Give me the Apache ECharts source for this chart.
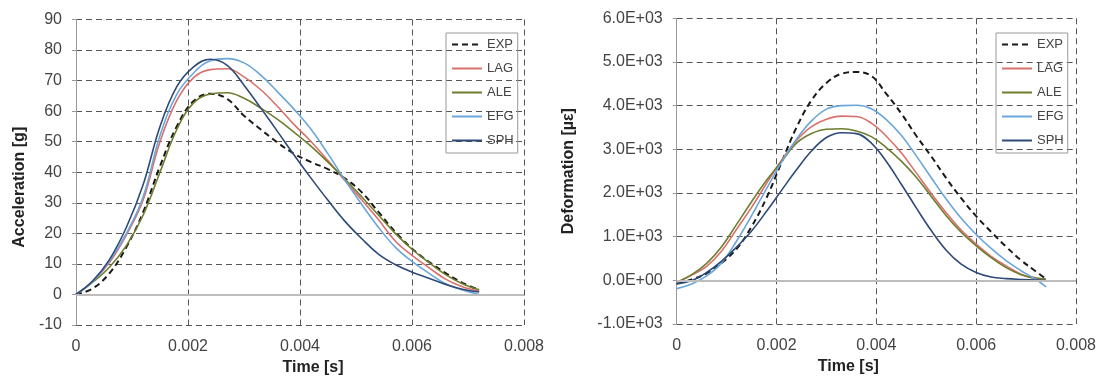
<!DOCTYPE html>
<html>
<head>
<meta charset="utf-8">
<script src="https://cdn.jsdelivr.net/npm/echarts@6/dist/echarts.min.js"></script>
<style>
  html, body { margin: 0; padding: 0; background: #fff; }
  #chart { width: 1099px; height: 389px; }
</style>
</head>
<body>
<div id="chart"></div>
<script>
// left panel: acceleration [g] vs time [s]
const accTime = [0, 0.0003, 0.0006, 0.0009, 0.0012, 0.0015, 0.0018, 0.0021, 0.0024, 0.0027, 0.003, 0.0033,
  0.0036, 0.0039, 0.0042, 0.0045, 0.0048, 0.0051, 0.0054, 0.0057, 0.006, 0.0063, 0.0066, 0.0069, 0.0072];
const accEXP = [0, 2, 7, 15.5, 27, 42, 55, 63.3, 65.7, 64, 58.5, 54, 49.7, 46, 43.3, 41, 38, 33.5, 27, 20.5, 15, 10.7, 7, 3.8, 1.5];
const accLAG = [0, 4.3, 10.5, 19.5, 31, 50, 63.5, 71, 73.6, 73.9, 71.2, 67, 61.5, 55.5, 50, 43.8, 37.3, 31, 24.5, 17.5, 12.8, 8.8, 5, 2.5, 1];
const accALE = [0, 4, 9, 16, 26, 40, 54, 62.7, 65.6, 66, 64.2, 61, 57.3, 53, 48.5, 43.3, 37.8, 32, 26, 20, 14.8, 10.5, 6.5, 3.5, 1.5];
const accEFG = [0, 4.3, 11, 20, 32, 52, 65.5, 72.5, 76.5, 77.2, 75.8, 71.8, 66.3, 60.5, 54, 46, 37.5, 29.5, 22, 15.5, 10.8, 7, 3.5, 1.5, 0];
const accSPH = [0, 4.5, 11.5, 22, 36, 55, 68, 74.5, 77, 75, 68.5, 61, 53.3, 45.5, 38, 30.8, 24, 18.3, 13.2, 9.8, 7.3, 5.3, 3.3, 1.7, 0.8];

// right panel: deformation [µε] vs time [s]
const defTime = [0, 0.0003, 0.0006, 0.0009, 0.0012, 0.0015, 0.0018, 0.0021, 0.0024, 0.0027, 0.003, 0.0033,
  0.0036, 0.0039, 0.0042, 0.0045, 0.0048, 0.0051, 0.0054, 0.0057, 0.006, 0.0063, 0.0066, 0.0069, 0.0072, 0.0074];
const defEXP = [-80, 20, 160, 400, 720, 1230, 1890, 2700, 3500, 4120, 4520, 4730, 4770, 4680, 4270, 3820, 3310, 2840, 2340, 1880, 1470, 1110, 770, 460, 200, 30];
const defLAG = [-60, 120, 320, 670, 1170, 1670, 2220, 2750, 3200, 3520, 3690, 3760, 3750, 3600, 3300, 2920, 2460, 1990, 1550, 1150, 830, 550, 330, 140, 30, 0];
const defALE = [-40, 130, 390, 770, 1280, 1800, 2290, 2720, 3140, 3360, 3460, 3470, 3420, 3290, 3040, 2730, 2360, 1920, 1480, 1100, 790, 520, 290, 130, 55, 30];
const defEFG = [-190, -85, 100, 400, 900, 1480, 2100, 2700, 3230, 3650, 3920, 4000, 4010, 3930, 3680, 3320, 2850, 2350, 1860, 1420, 1050, 730, 450, 220, 20, -150];
const defSPH = [-80, -5, 180, 440, 760, 1130, 1580, 2060, 2530, 2960, 3270, 3380, 3360, 3140, 2720, 2200, 1660, 1140, 690, 370, 180, 75, 40, 20, 5, 0];

const seriesNames = ['EXP', 'LAG', 'ALE', 'EFG', 'SPH'];
const seriesColors = ['#1a1a1a', '#d9706b', '#6e7d2e', '#6aa6dc', '#2e4a78'];

const accValues = [accEXP, accLAG, accALE, accEFG, accSPH];
const defValues = [defEXP, defLAG, defALE, defEFG, defSPH];

const pairs = (t, v) => t.map((x, i) => [x, v[i]]);

const gridDash = { type: [6, 4], color: '#555', width: 1 };
const labelStyle = { fontSize: 16, color: '#444', margin: 14 };

const makeSeries = (idx, time, values) => values.map((v, i) => {
  const s = {
    name: seriesNames[i],
    type: 'line',
    xAxisIndex: idx,
    yAxisIndex: idx,
    data: pairs(time, v),
    smooth: 0.4,
    symbol: 'none',
    showSymbol: false,
    lineStyle: {
      color: seriesColors[i],
      width: i === 0 ? 2 : 1.6,
      type: i === 0 ? [6, 4] : 'solid'
    },
    itemStyle: { color: seriesColors[i] }
  };
  if (i === 0) {
    // horizontal zero line
    s.markLine = {
      silent: true,
      symbol: 'none',
      label: { show: false },
      lineStyle: { color: '#bdbdbd', type: 'solid', width: 2 },
      data: [{ yAxis: 0 }]
    };
  }
  return s;
});

const xAxisFor = (idx, pad) => ({
  type: 'value',
  gridIndex: idx,
  min: 0,
  max: 0.008,
  interval: 0.002,
  axisLine: { show: false },
  axisTick: { show: false },
  axisLabel: Object.assign({}, labelStyle, { formatter: v => String(+v.toFixed(3)) }),
  splitLine: { show: true, lineStyle: gridDash },
  name: 'Time [s]',
  nameLocation: 'middle',
  nameGap: 33,
  nameTextStyle: { fontWeight: 'bold', fontSize: 16, color: '#222', padding: pad }
});

const legendFor = (left, width) => ({
  orient: 'vertical',
  left: left,
  top: 33,
  width: width,
  padding: [5, 4, 6, 5],
  itemWidth: 30,
  itemHeight: 14,
  itemGap: 11,
  borderColor: '#999',
  borderWidth: 1,
  itemStyle: { opacity: 0 },
  data: seriesNames,
  textStyle: { fontSize: 13, color: '#444' }
});

const chart = echarts.init(document.getElementById('chart'));
chart.setOption({
  animation: false,
  backgroundColor: '#fff',
  textStyle: { fontFamily: 'Liberation Sans, Arial, sans-serif' },
  grid: [
    { left: 76, top: 19.5, width: 448, height: 305.5 },
    { left: 676.7, top: 18.3, width: 400, height: 305.7 }
  ],
  legend: [legendFor(446, 60), legendFor(996, 70)],
  xAxis: [xAxisFor(0, [0, 0, 0, 26]), xAxisFor(1, [0, 56, 0, 0])],
  yAxis: [
    {
      type: 'value',
      gridIndex: 0,
      min: -10,
      max: 90,
      interval: 10,
      axisLine: { show: true, lineStyle: { color: '#999' } },
      axisTick: { show: true, length: 4, lineStyle: { color: '#999' } },
      axisLabel: labelStyle,
      splitLine: { show: true, lineStyle: gridDash },
      name: 'Acceleration [g]',
      nameLocation: 'middle',
      nameGap: 48,
      nameTextStyle: { fontWeight: 'bold', fontSize: 16, color: '#222', padding: [0, 30, 0, 0] }
    },
    {
      type: 'value',
      gridIndex: 1,
      min: -1000,
      max: 6000,
      interval: 1000,
      axisLine: { show: true, lineStyle: { color: '#999' } },
      axisTick: { show: true, length: 4, lineStyle: { color: '#999' } },
      axisLabel: Object.assign({}, labelStyle, {
        formatter: v => v === 0 ? '0.0E+00' : (v / 1000).toFixed(1) + 'E+03'
      }),
      splitLine: { show: true, lineStyle: gridDash },
      name: 'Deformation [µε]',
      nameLocation: 'middle',
      nameGap: 100,
      nameTextStyle: { fontWeight: 'bold', fontSize: 16, color: '#222' }
    }
  ],
  series: makeSeries(0, accTime, accValues).concat(makeSeries(1, defTime, defValues))
});
</script>
</body>
</html>
